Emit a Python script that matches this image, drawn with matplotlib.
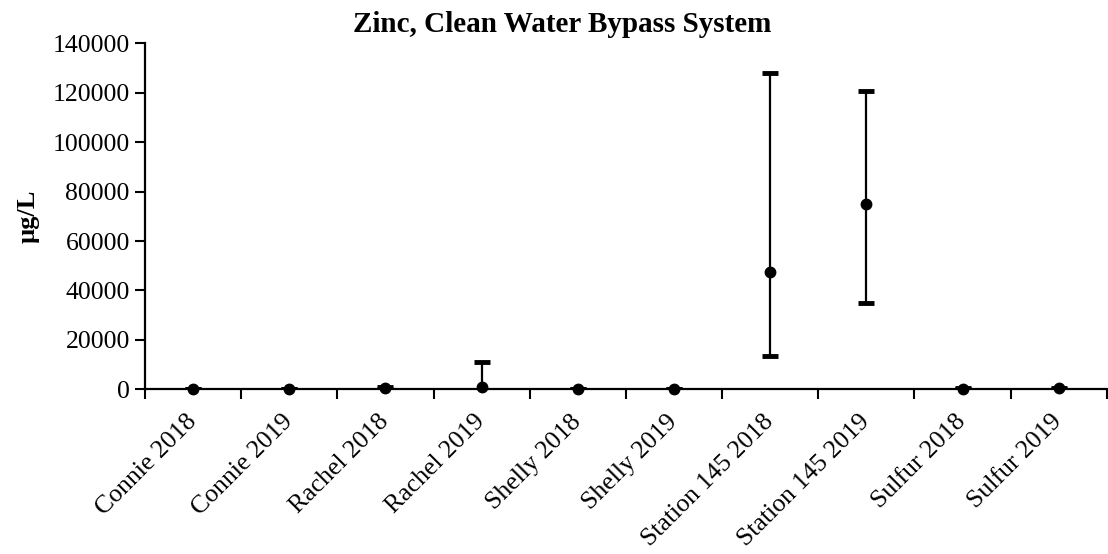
import matplotlib.pyplot as plt
import numpy as np

sites = ["Connie 2018", "Connie 2019", "Rachel 2018", "Rachel 2019", "Shelly 2018",
         "Shelly 2019", "Station 145 2018", "Station 145 2019", "Sulfur 2018", "Sulfur 2019"]
mean_zn = [80, 60, 600, 1000, 70, 60, 47300, 75000, 300, 400]
upper_zn = [150, 120, 900, 11200, 120, 100, 127900, 120600, 500, 600]
lower_zn = [20, 20, 300, -9000, 30, 30, 13300, 35000, 150, 200]

plt.rcParams['font.family'] = ['Liberation Serif', 'DejaVu Serif']

fig = plt.figure(figsize=(11.08, 5.54), dpi=100)
ax = fig.add_axes([0.1309, 0.2973, 0.868, 0.6245])

x = np.arange(len(sites))
mean = np.array(mean_zn)
yerr = [mean - np.array(lower_zn), np.array(upper_zn) - mean]
ax.errorbar(x, mean, yerr=yerr, fmt='none', ecolor='black', elinewidth=1.6,
            capsize=5.5, capthick=3.5)
ax.plot(x, mean, 'o', color='black', ms=7.5, clip_on=False, zorder=4)

ax.set_xlim(-0.5, len(sites) - 0.5)
ax.set_ylim(0, 140000)
ax.set_yticks(np.arange(0, 140001, 20000))
ax.set_xticks(x)
ax.set_xticklabels(sites, rotation=45, ha='right', va='center', rotation_mode='anchor')
ax.set_xticks(np.arange(-0.5, len(sites) - 0.4, 1), minor=True)
ax.tick_params(axis='x', which='major', length=0, labelsize=18.5, pad=21)
ax.tick_params(axis='x', which='minor', length=7, width=1.5, direction='out')
ax.tick_params(axis='y', length=7, width=1.5, labelsize=18.5, pad=4)

for s in ['top', 'right']:
    ax.spines[s].set_visible(False)
for s in ['left', 'bottom']:
    ax.spines[s].set_linewidth(1.6)

ax.set_ylabel("µg/L", fontsize=19, fontweight='bold', labelpad=9)
fig.suptitle("Zinc, Clean Water Bypass System", x=0.507, y=0.98, va='top',
             fontsize=21, fontweight='bold')

fig.savefig("out.png", dpi=100)
